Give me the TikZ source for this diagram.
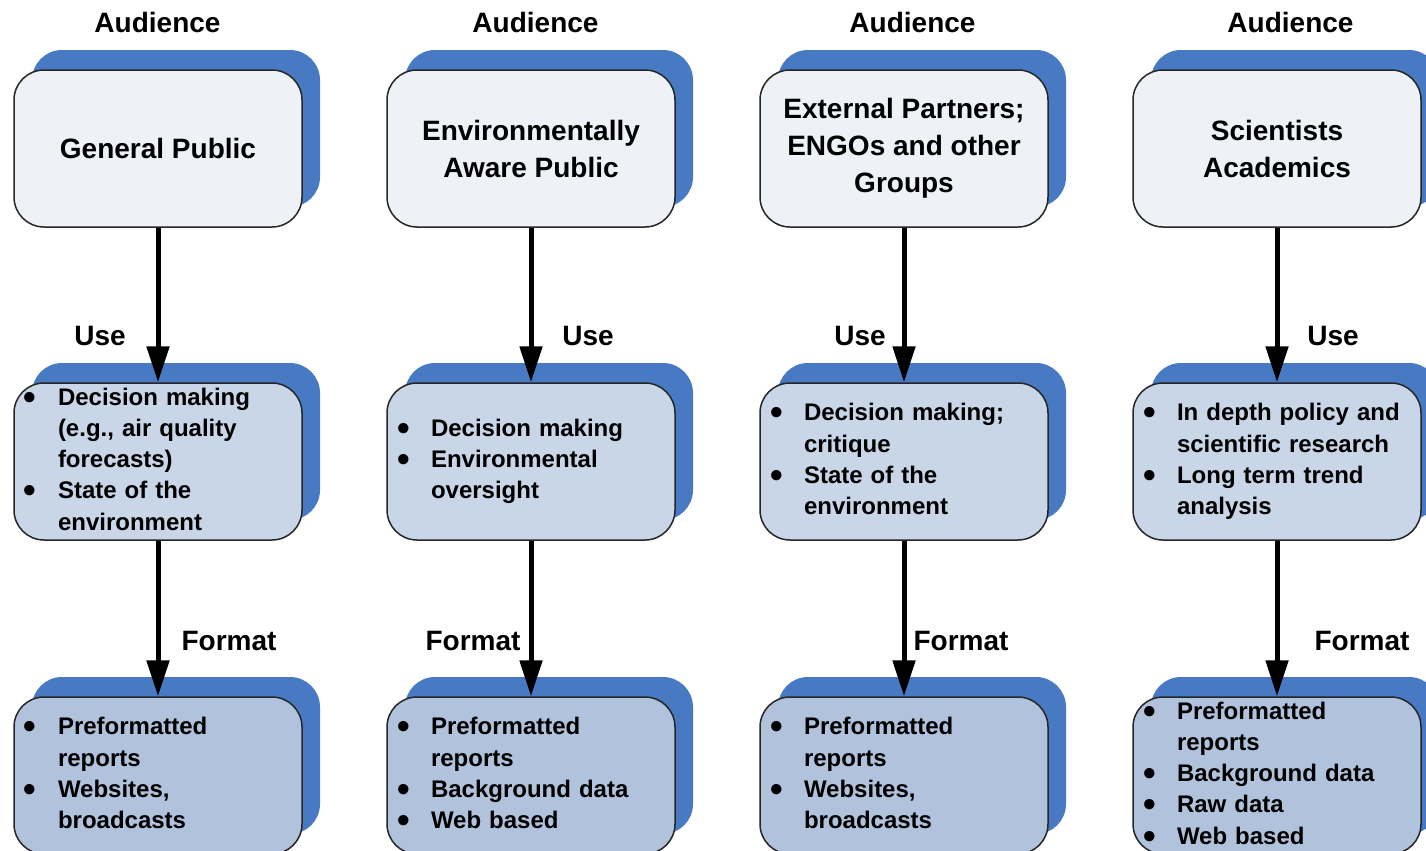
\documentclass[tikz,border=0pt]{standalone}
\usepackage{fontspec}
\usepackage{graphicx}
\setmainfont{Liberation Sans}
\usetikzlibrary{arrows.meta,shadows}
\definecolor{shadowblue}{RGB}{72,122,195}
\definecolor{audfill}{RGB}{238,241,246}
\definecolor{usefill}{RGB}{200,214,232}
\definecolor{fmtfill}{RGB}{176,194,220}
\newcommand{\titlefont}{\fontsize{14}{18.5}\selectfont\bfseries}
\newcommand{\listfont}{\fontsize{12}{15.6}\selectfont\bfseries}
\newcommand{\bul}{\makebox[17pt][l]{\smash{\raisebox{-2pt}{\scalebox{1.5}{\textbullet}}}}}
\newenvironment{blist}{\noindent\begin{tabular}{@{}l@{}l@{}}}{\end{tabular}}
\tikzset{
  box/.style={draw=black!85,line width=0.75pt,rounded corners=15pt,
    minimum width=144pt,minimum height=78.5pt,
    general shadow={fill=shadowblue,shadow xshift=9pt,shadow yshift=10pt}},
  audbox/.style={box,fill=audfill,align=center,font=\titlefont},
  usebox/.style={box,fill=usefill,text width=134pt,inner xsep=5pt,inner ysep=0pt,align=left,font=\listfont},
  fmtbox/.style={box,fill=fmtfill,text width=134pt,inner xsep=5pt,inner ysep=0pt,align=left,font=\listfont},
  flow/.style={line width=2.5pt,-{Triangle[length=18pt,width=11pt]}},
  lbl/.style={font=\titlefont,inner sep=0pt}
}
\begin{document}
\begin{tikzpicture}[x=0.5pt,y=-0.5pt]
\clip (0,0) rectangle (1426,851);
% audience row
\node[lbl] (aud1) at (157.5,22) {Audience};
\node[lbl] (aud2) at (535.5,22) {Audience};
\node[lbl] (aud3) at (912.5,22) {Audience};
\node[lbl] (aud4) at (1290.5,22) {Audience};
\node[audbox] (gp) at (158,148.5) {General Public};
\node[audbox] (eap) at (531,148.5) {Environmentally\\Aware Public};
\node[audbox] (ext) at (904,148.5) {External Partners;\\ENGOs and other\\Groups};
\node[audbox] (sci) at (1277,148.5) {Scientists\\Academics};
% use row
\node[usebox] (gpuse) at (158,461.5) {\begin{blist}
  \bul & Decision making\\ & (e.g., air quality\\ & forecasts)\\
  \bul & State of the\\ & environment\end{blist}};
\node[usebox] (eapuse) at (531,461.5) {\begin{blist}
  \bul & Decision making\\
  \bul & Environmental\\ & oversight\end{blist}};
\node[usebox] (extuse) at (904,461.5) {\begin{blist}
  \bul & Decision making;\\ & critique\\
  \bul & State of the\\ & environment\end{blist}};
\node[usebox] (sciuse) at (1277,461.5) {\begin{blist}
  \bul & In depth policy and\\ & scientific research\\
  \bul & Long term trend\\ & analysis\end{blist}};
% format row
\node[fmtbox] (gpfmt) at (158,775.5) {\begin{blist}
  \bul & Preformatted\\ & reports\\
  \bul & Websites,\\ & broadcasts\end{blist}};
\node[fmtbox] (eapfmt) at (531,775.5) {\begin{blist}
  \bul & Preformatted\\ & reports\\
  \bul & Background data\\
  \bul & Web based\end{blist}};
\node[fmtbox] (extfmt) at (904,775.5) {\begin{blist}
  \bul & Preformatted\\ & reports\\
  \bul & Websites,\\ & broadcasts\end{blist}};
\node[fmtbox] (scifmt) at (1277,775.5) {\begin{blist}
  \bul & Preformatted\\ & reports\\
  \bul & Background data\\
  \bul & Raw data\\
  \bul & Web based\end{blist}};
% arrows
\draw[flow] (gp) -- (gpuse);
\draw[flow] (eap) -- (eapuse);
\draw[flow] (ext) -- (extuse);
\draw[flow] (sci) -- (sciuse);
\draw[flow] (gpuse) -- (gpfmt);
\draw[flow] (eapuse) -- (eapfmt);
\draw[flow] (extuse) -- (extfmt);
\draw[flow] (sciuse) -- (scifmt);
% arrow labels
\node[lbl] (use1) at (100,336) {Use};
\node[lbl] (use2) at (588,336) {Use};
\node[lbl] (use3) at (860,336) {Use};
\node[lbl] (use4) at (1333,336) {Use};
\node[lbl] (fmt1) at (229,641) {Format};
\node[lbl] (fmt2) at (473,641) {Format};
\node[lbl] (fmt3) at (961,641) {Format};
\node[lbl] (fmt4) at (1362,641) {Format};
\end{tikzpicture}
\end{document}
